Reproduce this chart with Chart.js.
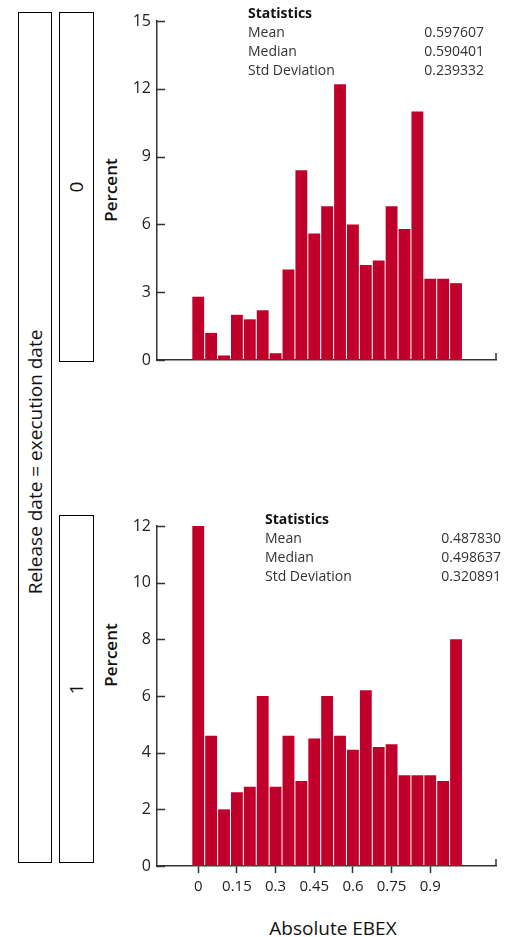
<!DOCTYPE html>
<html>
<head>
<meta charset="utf-8">
<script src="https://cdn.jsdelivr.net/npm/chart.js@4.4.1/dist/chart.umd.min.js"></script>
<style>
  body { margin: 0; width: 511px; height: 937px; background: #fff; position: relative; overflow: hidden; font-family: "Open Sans", sans-serif; color: #111; }
  .box { position: absolute; border: 1px solid #000; box-sizing: border-box; }
  .vtext { position: absolute; transform: translate(-50%, -50%) rotate(-90deg); white-space: nowrap; }
  .wrap { position: absolute; }
  .stats { position: absolute; font-size: 14px; line-height: 19px; color: #333; }
  .stats .head { font-weight: 700; color: #111; }
  .stats .row { display: flex; justify-content: space-between; }
</style>
</head>
<body>
<div class="box" style="left:18px; top:12px; width:34px; height:851px;"></div>
<div class="vtext" style="left:35px; top:462px; font-size:19px;">Release date = execution date</div>
<div class="box" style="left:59px; top:12px; width:35px; height:350px;"></div>
<div class="vtext" style="left:76px; top:187px; font-size:19px;">0</div>
<div class="box" style="left:59px; top:515px; width:35px; height:348px;"></div>
<div class="vtext" style="left:76px; top:689px; font-size:19px;">1</div>

<div class="vtext" style="left:110px; top:190px; font-size:17px; font-weight:600;">Percent</div>
<div class="vtext" style="left:110px; top:655px; font-size:17px; font-weight:600;">Percent</div>

<div class="wrap" style="left:100px; top:0px; width:411px; height:380px;"><canvas id="chartDate0"></canvas></div>
<div class="wrap" style="left:100px; top:500px; width:411px; height:400px;"><canvas id="chartDate1"></canvas></div>

<div class="stats" id="statsDate0" style="left:248px; top:3px; width:236px;"></div>
<div class="stats" id="statsDate1" style="left:265px; top:509px; width:236px;"></div>

<div style="position:absolute; left:333px; top:928px; transform:translate(-50%,-50%); font-size:19px; white-space:nowrap;">Absolute EBEX</div>

<script>
// bin midpoints of Absolute EBEX (width 0.05)
const binCenters = [0, 0.05, 0.1, 0.15, 0.2, 0.25, 0.3, 0.35, 0.4, 0.45, 0.5,
                    0.55, 0.6, 0.65, 0.7, 0.75, 0.8, 0.85, 0.9, 0.95, 1.0];
// percent of observations per bin
const percentDate0 = [2.8, 1.2, 0.2, 2.0, 1.8, 2.2, 0.3, 4.0, 8.4, 5.6, 6.8,
                      12.2, 6.0, 4.2, 4.4, 6.8, 5.8, 11.0, 3.6, 3.6, 3.4];
const percentDate1 = [12.0, 4.6, 2.0, 2.6, 2.8, 6.0, 2.8, 4.6, 3.0, 4.5, 6.0,
                      4.6, 4.1, 6.2, 4.2, 4.3, 3.2, 3.2, 3.2, 3.0, 8.0];
const xTickValues = [0, 0.15, 0.3, 0.45, 0.6, 0.75, 0.9];
const xTickLabels = ['0', '0.15', '0.3', '0.45', '0.6', '0.75', '0.9'];
const statsLabels = ['Mean', 'Median', 'Std Deviation'];
const statsDate0 = ['0.597607', '0.590401', '0.239332'];
const statsDate1 = ['0.487830', '0.498637', '0.320891'];

const barColor = 'rgb(192, 0, 43)';
const axisColor = '#333';

function fillStats(id, values) {
  const el = document.getElementById(id);
  let html = '<div class="head">Statistics</div>';
  statsLabels.forEach((lab, i) => {
    html += '<div class="row"><span>' + lab + '</span><span>' + values[i] + '</span></div>';
  });
  el.innerHTML = html;
}
fillStats('statsDate0', statsDate0);
fillStats('statsDate1', statsDate1);

// inward y tick marks and a small cap at the right end of the x axis
const frameTicks = {
  id: 'frameTicks',
  afterDraw(chart) {
    const { ctx, chartArea, scales } = chart;
    ctx.save();
    ctx.strokeStyle = axisColor;
    ctx.lineWidth = 1.5;
    ctx.beginPath();
    scales.y.ticks.forEach(t => {
      const y = Math.round(scales.y.getPixelForValue(t.value)) + 0.5;
      ctx.moveTo(chartArea.left, y);
      ctx.lineTo(chartArea.left + 8, y);
    });
    ctx.moveTo(chartArea.right, chartArea.bottom);
    ctx.lineTo(chartArea.right, chartArea.bottom - 7);
    ctx.stroke();
    ctx.restore();
  }
};

function makeChart(id, values, yMax, yStep, showX, padTop, xHeight) {
  return new Chart(document.getElementById(id), {
    type: 'bar',
    data: {
      datasets: [{
        data: binCenters.map((x, i) => ({ x: x, y: values[i] })),
        backgroundColor: barColor,
        borderWidth: 0,
        barPercentage: 1,
        categoryPercentage: 0.92
      }]
    },
    options: {
      responsive: true,
      maintainAspectRatio: false,
      animation: false,
      layout: { padding: { top: padTop, right: 15, left: 0, bottom: 0 } },
      plugins: { legend: { display: false }, tooltip: { enabled: false } },
      scales: {
        x: {
          type: 'linear',
          min: -0.16,
          max: 1.155,
          offset: false,
          grid: { display: showX, offset: false, drawOnChartArea: false, drawTicks: showX, tickLength: 7, tickColor: axisColor, tickWidth: 1.5 },
          border: { display: true, color: axisColor, width: 1.5 },
          ticks: {
            display: showX,
            padding: 5,
            color: '#222',
            font: { family: 'Open Sans', size: 15 },
            maxRotation: 0,
            callback: (v, i) => xTickLabels[i]
          },
          afterBuildTicks: s => { s.ticks = xTickValues.map(v => ({ value: v })); },
          afterFit: s => { s.height = xHeight; }
        },
        y: {
          min: 0,
          max: yMax,
          grid: { display: false, drawTicks: false },
          border: { display: true, color: axisColor, width: 1.5 },
          ticks: {
            stepSize: yStep,
            padding: 6,
            color: '#222',
            font: { family: 'Open Sans', size: 16 }
          },
          afterFit: s => { s.width = 57; }
        }
      }
    },
    plugins: [frameTicks]
  });
}

makeChart('chartDate0', percentDate0, 15, 3, false, 21, 20);
makeChart('chartDate1', percentDate1, 12, 2, true, 26, 34);
</script>
</body>
</html>
